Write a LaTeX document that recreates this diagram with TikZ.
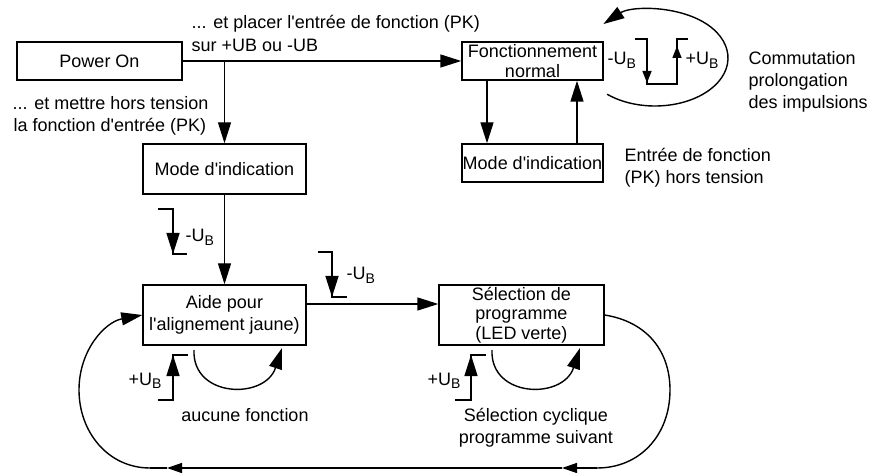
\documentclass[tikz,border=0pt]{standalone}
\usepackage{fontspec}
\setmainfont{Liberation Sans}[Ligatures=TeXOff]
\usetikzlibrary{arrows.meta}
\newcommand{\UB}{U\raisebox{-3.3pt}{\fontsize{14}{14}\selectfont B}}
\begin{document}
\begin{tikzpicture}[x=1pt,y=-1pt,line width=1.4pt,
  font=\fontsize{18}{22}\selectfont,
  box/.style={draw,inner sep=0pt,align=center},
  lbl/.style={inner sep=0pt,anchor=base west},
  arr/.style={-{Triangle[length=21pt,width=13pt]}},
  sarr/.style={-{Triangle[length=15pt,width=10pt]}},
  tarr/.style={-{Triangle[length=12pt,width=9pt]}}]
\useasboundingbox (0,0) rectangle (871,473);
% boxes
\node[box,minimum width=165pt,minimum height=38pt] (pw) at (99.5,61) {Power On};
\node[box,minimum width=163pt,minimum height=50pt] (mode1) at (224.5,169) {Mode d'indication};
\node[box,minimum width=141pt,minimum height=38pt,font=\fontsize{18}{20}\selectfont] (fn) at (532.5,61) {Fonctionnement\\normal};
\node[box,minimum width=141pt,minimum height=38pt] (mode2) at (532.5,163) {Mode d'indication};
\node[box,minimum width=163pt,minimum height=60pt] (aide) at (224.5,315) {Aide pour\\l'alignement jaune)};
\node[box,minimum width=165pt,minimum height=60pt,font=\fontsize{18}{19.5}\selectfont] (sel) at (521.5,315) {S\'election de\\programme\\(LED verte)};
% labels
\node[lbl] (t1a) at (191,29) {... et placer l'entr\'ee de fonction (PK)};
\node[lbl] (t1b) at (191,52) {sur +UB ou -UB};
\node[lbl] (t2a) at (12,110) {... et mettre hors tension};
\node[lbl] (t2b) at (13,132) {la fonction d'entr\'ee (PK)};
\node[lbl] (t3a) at (624,162) {Entr\'ee de fonction};
\node[lbl] (t3b) at (624,184) {(PK) hors tension};
\node[lbl] (t4a) at (748,65) {Commutation};
\node[lbl] (t4b) at (748,87) {prolongation};
\node[lbl] (t4c) at (748,109) {des impulsions};
\node[lbl] (u1) at (607,65) {-\UB};
\node[lbl] (u2) at (685,65) {+\UB};
\node[lbl] (u3) at (185,242) {-\UB};
\node[lbl] (u4) at (346,280) {-\UB};
\node[lbl] (u5) at (128,385) {+\UB};
\node[lbl] (u6) at (427,385) {+\UB};
\node[inner sep=0pt,anchor=base] (t5) at (245,421) {aucune fonction};
\node[inner sep=0pt,anchor=base] (t6a) at (536,421) {S\'election cyclique};
\node[inner sep=0pt,anchor=base] (t6b) at (536,443) {programme suivant};
% main connectors
\draw[arr] (pw.east) -- (fn.west);
\draw[arr] (pw.east -| mode1.north) -- (mode1.north);
\draw[arr] ([xshift=-45.5pt]fn.south) -- ([xshift=-45.5pt]mode2.north);
\draw[arr] ([xshift=44.5pt]mode2.north) -- ([xshift=44.5pt]fn.south);
\draw[arr] (mode1.south) -- (aide.north);
\coordinate (a1) at (306,304);
\draw[arr] (a1) -- (a1 -| sel.west);
% big loop
\coordinate (b1) at (597,468);
\coordinate (m1) at (562,468);
\coordinate (m2) at (167,468);
\coordinate (b2) at (150,468);
\draw (sel.east) .. controls (648,322) and (670,352) .. (670,390) .. controls (670,435) and (640,468) .. (b1);
\draw[sarr] (b1) -- (m1);
\draw[sarr] (m1) -- (m2);
\draw (m2) -- (b2);
\draw[arr] (b2) .. controls (108,468) and (79,432) .. (79,390) .. controls (79,350) and (105,322) .. (aide.west);
% self loops
\draw[arr] (194,350) .. controls (192,398) and (265,400) .. (282,348);
\draw[arr] (492,350) .. controls (490,398) and (563,400) .. (580,348);
% ellipse
\draw[arr] (655,58) ++(131:73 and 48) arc[start angle=131,end angle=-135,x radius=73,y radius=48];
% pulse symbols
\draw (635,39) -- (647,39) -- (647,84) -- (677,84) -- (677,39) -- (688,39);
\draw[tarr] (647,60) -- (647,83);
\draw[tarr] (677,62) -- (677,46);
\draw (158,209) -- (173,209) -- (173,254) -- (187,254);
\draw[arr] (173,215) -- (173,254);
\draw (318,252) -- (332,252) -- (332,297) -- (347,297);
\draw[arr] (332,258) -- (332,297);
\draw (158,400) -- (173,400) -- (173,355) -- (188,355);
\draw[arr] (173,394) -- (173,355);
\draw (455,400) -- (471,400) -- (471,355) -- (486,355);
\draw[arr] (471,394) -- (471,355);
\end{tikzpicture}
\end{document}
